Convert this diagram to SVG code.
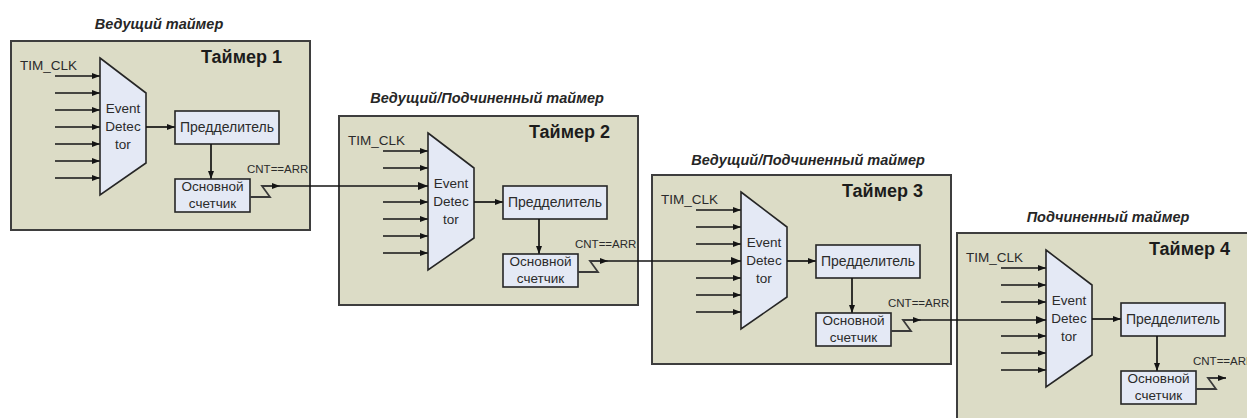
<svg xmlns="http://www.w3.org/2000/svg" width="1247" height="418" viewBox="0 0 1247 418">
  <defs>
    <style>
      text { font-family: "Liberation Sans", Arial, sans-serif; fill: #2b2b2b; }
      .frame { fill: #dcdcc6; stroke: #3e3e3e; stroke-width: 2; }
      .blk { fill: #e4e9f5; stroke: #262626; stroke-width: 1.6; }
      .wire { fill: none; stroke: #141414; stroke-width: 1.7; }
      .stub { fill: none; stroke: #141414; stroke-width: 1.7; marker-end: url(#ah); }
      .link { fill: none; stroke: #141414; stroke-width: 1.7; marker-end: url(#ahL); }
      .bolt { fill: none; stroke: #3a3a3a; stroke-width: 1.8; stroke-linejoin: miter; marker-end: url(#ah); }
      .role { font-size: 14.5px; font-weight: bold; font-style: italic; text-anchor: middle; fill: #262626; }
      .name { font-size: 18px; font-weight: bold; text-anchor: end; fill: #1c1c1c; }
      .lbl { font-size: 13.5px; }
      .mid { font-size: 13.5px; text-anchor: middle; }
      .pre { font-size: 14px; text-anchor: middle; }
      .cnt { font-size: 11.5px; }
    </style>
    <marker id="ah" viewBox="0 0 8 6" refX="8" refY="3" markerWidth="8" markerHeight="6" markerUnits="userSpaceOnUse" orient="auto">
      <path d="M0,0 L8,3 L0,6 z" fill="#141414"/>
    </marker>
    <marker id="ahL" viewBox="0 0 10 8" refX="10" refY="4" markerWidth="10" markerHeight="8" markerUnits="userSpaceOnUse" orient="auto">
      <path d="M0,0 L10,4 L0,8 z" fill="#141414"/>
    </marker>
  </defs>

  <!-- role captions -->
  <text class="role" x="159" y="29">Ведущий таймер</text>
  <text class="role" x="487" y="103">Ведущий/Подчиненный таймер</text>
  <text class="role" x="808" y="165">Ведущий/Подчиненный таймер</text>
  <text class="role" x="1108" y="222">Подчиненный таймер</text>

  <!-- Timer 1 -->
  <g id="timer1" transform="translate(11,41)">
    <rect class="frame" x="0" y="0" width="299" height="189"/>
    <text class="name" x="271" y="22">Таймер 1</text>
    <text class="lbl" x="9" y="29">TIM_CLK</text>
    <g id="timer1-inputs">
      <line class="stub" x1="44" y1="35" x2="89" y2="35"/>
      <line class="stub" x1="44" y1="52" x2="89" y2="52"/>
      <line class="stub" x1="44" y1="69" x2="89" y2="69"/>
      <line class="stub" x1="44" y1="86" x2="89" y2="86"/>
      <line class="stub" x1="44" y1="103" x2="89" y2="103"/>
      <line class="stub" x1="44" y1="120" x2="89" y2="120"/>
      <line class="stub" x1="44" y1="137" x2="89" y2="137"/>
    </g>
    <g id="timer1-detector">
      <polygon class="blk" points="89,17 135,52 135,122 89,154"/>
      <text class="mid" x="112" y="72">Event</text>
      <text class="mid" x="112" y="90">Detec</text>
      <text class="mid" x="112" y="108">tor</text>
    </g>
    <line class="stub" x1="135" y1="86" x2="164" y2="86"/>
    <g id="timer1-prescaler">
      <rect class="blk" x="164" y="70" width="104" height="33"/>
      <text class="pre" x="216" y="91">Предделитель</text>
    </g>
    <line class="stub" x1="200" y1="103" x2="200" y2="138"/>
    <g id="timer1-counter">
      <rect class="blk" x="164" y="138" width="75" height="33"/>
      <text class="mid" x="201.5" y="150">Основной</text>
      <text class="mid" x="201.5" y="167">счетчик</text>
    </g>
    <text class="cnt" x="236" y="132">CNT==ARR</text>
    <polyline class="bolt" points="239,156 259,156 251,145 269,145"/>
  </g>

  <!-- Timer 2 -->
  <g id="timer2" transform="translate(339,116)">
    <rect class="frame" x="0" y="0" width="299" height="189"/>
    <text class="name" x="271" y="22">Таймер 2</text>
    <text class="lbl" x="9" y="29">TIM_CLK</text>
    <g id="timer2-inputs">
      <line class="stub" x1="44" y1="35" x2="89" y2="35"/>
      <line class="stub" x1="44" y1="52" x2="89" y2="52"/>
      <line class="stub" x1="44" y1="86" x2="89" y2="86"/>
      <line class="stub" x1="44" y1="103" x2="89" y2="103"/>
      <line class="stub" x1="44" y1="120" x2="89" y2="120"/>
      <line class="stub" x1="44" y1="137" x2="89" y2="137"/>
    </g>
    <g id="timer2-detector">
      <polygon class="blk" points="89,17 135,52 135,122 89,154"/>
      <text class="mid" x="112" y="72">Event</text>
      <text class="mid" x="112" y="90">Detec</text>
      <text class="mid" x="112" y="108">tor</text>
    </g>
    <line class="stub" x1="135" y1="86" x2="164" y2="86"/>
    <g id="timer2-prescaler">
      <rect class="blk" x="164" y="70" width="104" height="33"/>
      <text class="pre" x="216" y="91">Предделитель</text>
    </g>
    <line class="stub" x1="200" y1="103" x2="200" y2="138"/>
    <g id="timer2-counter">
      <rect class="blk" x="164" y="138" width="75" height="33"/>
      <text class="mid" x="201.5" y="150">Основной</text>
      <text class="mid" x="201.5" y="167">счетчик</text>
    </g>
    <text class="cnt" x="236" y="132">CNT==ARR</text>
    <polyline class="bolt" points="239,156 259,156 251,145 269,145"/>
  </g>

  <!-- Timer 3 -->
  <g id="timer3" transform="translate(652,175)">
    <rect class="frame" x="0" y="0" width="299" height="189"/>
    <text class="name" x="271" y="22">Таймер 3</text>
    <text class="lbl" x="9" y="29">TIM_CLK</text>
    <g id="timer3-inputs">
      <line class="stub" x1="44" y1="35" x2="89" y2="35"/>
      <line class="stub" x1="44" y1="52" x2="89" y2="52"/>
      <line class="stub" x1="44" y1="69" x2="89" y2="69"/>
      <line class="stub" x1="44" y1="103" x2="89" y2="103"/>
      <line class="stub" x1="44" y1="120" x2="89" y2="120"/>
      <line class="stub" x1="44" y1="137" x2="89" y2="137"/>
    </g>
    <g id="timer3-detector">
      <polygon class="blk" points="89,17 135,52 135,122 89,154"/>
      <text class="mid" x="112" y="72">Event</text>
      <text class="mid" x="112" y="90">Detec</text>
      <text class="mid" x="112" y="108">tor</text>
    </g>
    <line class="stub" x1="135" y1="86" x2="164" y2="86"/>
    <g id="timer3-prescaler">
      <rect class="blk" x="164" y="70" width="104" height="33"/>
      <text class="pre" x="216" y="91">Предделитель</text>
    </g>
    <line class="stub" x1="200" y1="103" x2="200" y2="138"/>
    <g id="timer3-counter">
      <rect class="blk" x="164" y="138" width="75" height="33"/>
      <text class="mid" x="201.5" y="150">Основной</text>
      <text class="mid" x="201.5" y="167">счетчик</text>
    </g>
    <text class="cnt" x="236" y="132">CNT==ARR</text>
    <polyline class="bolt" points="239,156 259,156 251,145 269,145"/>
  </g>

  <!-- Timer 4 (runs past the right and bottom edges) -->
  <g id="timer4" transform="translate(957,233)">
    <rect class="frame" x="0" y="0" width="299" height="189"/>
    <text class="name" x="273" y="22">Таймер 4</text>
    <text class="lbl" x="9" y="29">TIM_CLK</text>
    <g id="timer4-inputs">
      <line class="stub" x1="44" y1="35" x2="89" y2="35"/>
      <line class="stub" x1="44" y1="52" x2="89" y2="52"/>
      <line class="stub" x1="44" y1="69" x2="89" y2="69"/>
      <line class="stub" x1="44" y1="103" x2="89" y2="103"/>
      <line class="stub" x1="44" y1="120" x2="89" y2="120"/>
      <line class="stub" x1="44" y1="137" x2="89" y2="137"/>
    </g>
    <g id="timer4-detector">
      <polygon class="blk" points="89,17 135,52 135,122 89,154"/>
      <text class="mid" x="112" y="72">Event</text>
      <text class="mid" x="112" y="90">Detec</text>
      <text class="mid" x="112" y="108">tor</text>
    </g>
    <line class="stub" x1="135" y1="86" x2="164" y2="86"/>
    <g id="timer4-prescaler">
      <rect class="blk" x="164" y="70" width="104" height="33"/>
      <text class="pre" x="216" y="91">Предделитель</text>
    </g>
    <line class="stub" x1="200" y1="103" x2="200" y2="138"/>
    <g id="timer4-counter">
      <rect class="blk" x="164" y="138" width="75" height="33"/>
      <text class="mid" x="201.5" y="150">Основной</text>
      <text class="mid" x="201.5" y="167">счетчик</text>
    </g>
    <text class="cnt" x="236" y="132">CNT==ARR</text>
    <polyline class="bolt" points="239,156 259,156 251,145 269,145"/>
  </g>

  <!-- trigger links between timers -->
  <g id="connectors">
    <line class="link" x1="280" y1="186" x2="428" y2="186"/>
    <line class="link" x1="608" y1="261" x2="741" y2="261"/>
    <line class="link" x1="921" y1="320" x2="1046" y2="320"/>
  </g>
</svg>
